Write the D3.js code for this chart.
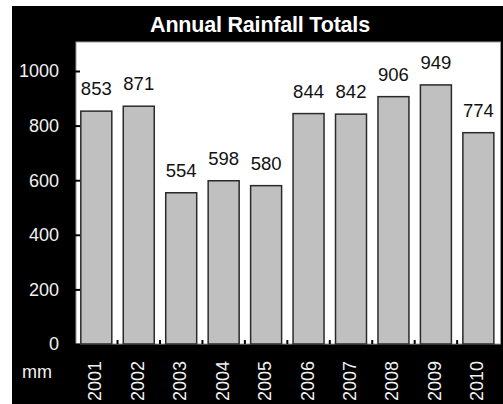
<!DOCTYPE html>
<html>
<head>
<meta charset="utf-8">
<script src="https://cdn.jsdelivr.net/npm/d3@7/dist/d3.min.js"></script>
<style>
  html, body { margin: 0; padding: 0; background: #fff; }
  svg { display: block; }
  text { font-family: "Liberation Sans", Arial, sans-serif; }
</style>
</head>
<body>
<svg id="chart" width="503" height="404"></svg>
<script>
// Annual rainfall, millimetres per year
const years = ["2001", "2002", "2003", "2004", "2005", "2006", "2007", "2008", "2009", "2010"];
const rainfall = [853, 871, 554, 598, 580, 844, 842, 906, 949, 774];
const yTicks = [0, 200, 400, 600, 800, 1000];
const titleText = "Annual Rainfall Totals";
const unitText = "mm";

const svg = d3.select("#chart");

// frame
const frame = { x: 12, y: 6, w: 500, h: 410 };
const plot = { left: 76, top: 42, right: 500.5, bottom: 344 };

svg.append("rect")
  .attr("x", frame.x).attr("y", frame.y)
  .attr("width", frame.w).attr("height", frame.h)
  .attr("fill", "#000");

svg.append("rect")
  .attr("x", plot.left).attr("y", plot.top)
  .attr("width", plot.right - plot.left).attr("height", plot.bottom - plot.top)
  .attr("fill", "#fff")
  .attr("stroke", "#9a9a9a").attr("stroke-width", 1);

const x = d3.scaleBand()
  .domain(years)
  .range([plot.left, plot.right])
  .paddingInner(0.27)
  .paddingOuter(0.135)
  .align(0.42);

const y = d3.scaleLinear()
  .domain([0, 1000])
  .range([plot.bottom, plot.top + 29]);

// title
svg.append("text")
  .attr("x", 260).attr("y", 32)
  .attr("text-anchor", "middle")
  .attr("fill", "#fff")
  .attr("font-size", 21.5)
  .attr("font-weight", "bold")
  .attr("letter-spacing", -0.2)
  .text(titleText);

// bars
svg.append("g").selectAll("rect")
  .data(rainfall)
  .join("rect")
  .attr("x", (d, i) => x(years[i]))
  .attr("y", d => y(d))
  .attr("width", x.bandwidth())
  .attr("height", d => y(0) - y(d))
  .attr("fill", "#c0c0c0")
  .attr("stroke", "#2a2a2a")
  .attr("stroke-width", 1.5);

// value labels
svg.append("g").selectAll("text")
  .data(rainfall)
  .join("text")
  .attr("x", (d, i) => x(years[i]) + x.bandwidth() / 2)
  .attr("y", d => y(d) - 16)
  .attr("text-anchor", "middle")
  .attr("font-size", 18.5)
  .attr("fill", "#111")
  .text(d => d);

// y axis
const yAxis = svg.append("g")
  .attr("transform", `translate(${plot.left - 1},0)`)
  .call(d3.axisRight(y).tickValues(yTicks).tickSize(5).tickFormat(""));
yAxis.select(".domain").remove();
yAxis.selectAll("line").attr("stroke", "#000").attr("stroke-width", 2);

svg.append("g").selectAll("text")
  .data(yTicks)
  .join("text")
  .attr("x", 59)
  .attr("y", d => y(d))
  .attr("dy", "0.35em")
  .attr("text-anchor", "end")
  .attr("font-size", 18)
  .attr("fill", "#f2f2f2")
  .text(d => d);

// x axis: small ticks between categories
const boundaries = years.slice(1).map(yr => x(yr) - x.step() * x.paddingInner() * 0.5);
svg.append("g").selectAll("line")
  .data(boundaries)
  .join("line")
  .attr("x1", d => d).attr("x2", d => d)
  .attr("y1", plot.bottom).attr("y2", plot.bottom - 4)
  .attr("stroke", "#000").attr("stroke-width", 2);

// x labels, rotated
svg.append("g").selectAll("text")
  .data(years)
  .join("text")
  .attr("transform", d => `translate(${x(d) + x.bandwidth() / 2 + 5},${plot.bottom + 17}) rotate(-90)`)
  .attr("text-anchor", "end")
  .attr("font-size", 18)
  .attr("fill", "#f2f2f2")
  .text(d => d);

// unit label
svg.append("text")
  .attr("x", 37).attr("y", 372)
  .attr("dy", "0.35em")
  .attr("text-anchor", "middle")
  .attr("font-size", 18)
  .attr("fill", "#f2f2f2")
  .text(unitText);
</script>
</body>
</html>
